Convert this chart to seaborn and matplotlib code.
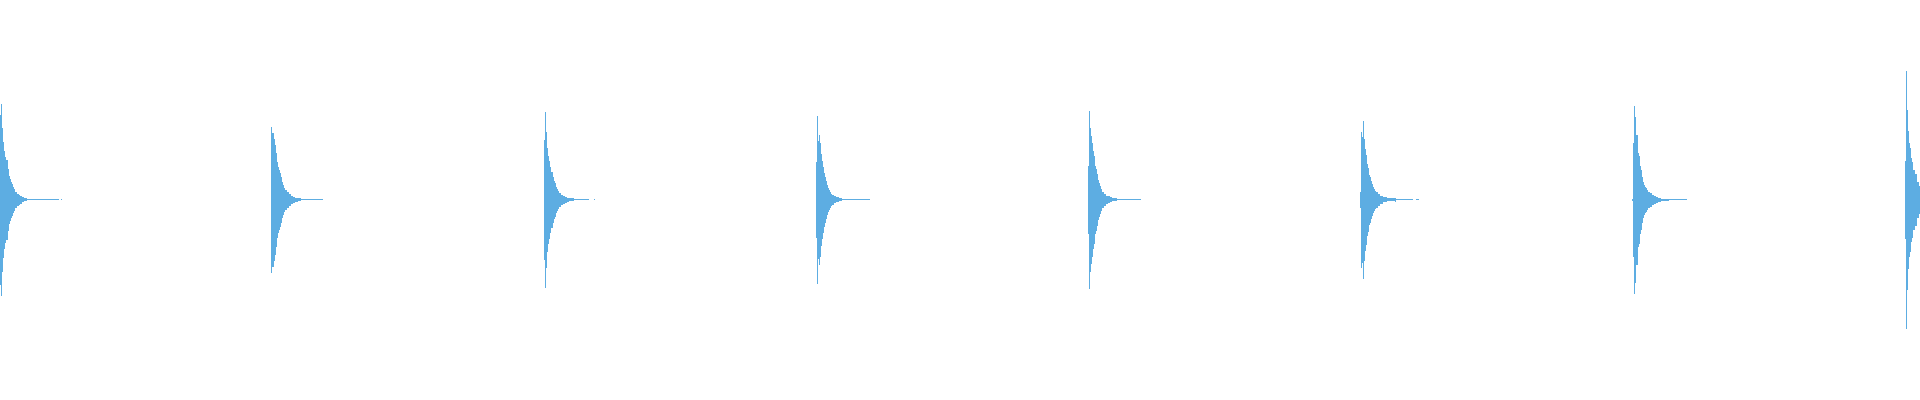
import matplotlib
matplotlib.use("Agg")
import pandas as pd
import matplotlib.pyplot as plt
import seaborn as sns

# ============================
# Data: decaying clicks, one sample = one pixel column
# ============================
onsets = [0, 271, 544, 816, 1088, 1360, 1632, 1905]

# peak envelope (amplitude) of each sample after the onset
pulse_1 = [85, 96, 72, 58, 49, 43, 40, 40, 31, 24, 21, 18, 16, 13, 11, 8, 8, 6, 6, 5,
           4, 4, 2.5, 2.5, 1.5, 1.5, 1.5, 0.7, 0.7, 0.7, 0.7, 0.7, 0.7, 0.7, 0.7, 0.7,
           0.7, 0.7, 0.7, 0.5, 0.5, 0.5, 0.5, 0.5, 0.5, 0.5, 0.5, 0.5, 0.5, 0.5, 0.5,
           0.5, 0.5, 0.5, 0.5, 0.5, 0.5, 0.5, 0.5, 0, 0, 0.5]
pulse_2 = [73, 67, 67, 61, 55, 47, 38, 33, 30, 27, 23, 18, 15, 12, 10, 10, 8, 8, 6, 6,
           4, 4, 3, 3, 2, 2, 2, 1.3, 1.3, 1.3, 0.7, 0.7, 0.7, 0.7, 0.7, 0.7, 0.7, 0.7,
           0.7, 0.5, 0.5, 0.5, 0.5, 0.5, 0.5, 0.5, 0.5, 0.5, 0.5, 0.5, 0.5, 0.5]
pulse_3 = [60, 88, 68, 52, 44, 39, 33, 28, 28, 23, 19, 17, 13, 11, 9, 7, 7, 5, 5, 4,
           4, 3, 3, 2, 2, 1.3, 1.3, 1.3, 1.3, 1.3, 0.7, 0.7, 0.7, 0.7, 0.7, 0.5, 0.5,
           0.5, 0.5, 0.5, 0.5, 0.5, 0.5, 0.5, 0.5, 0, 0, 0, 0, 0, 0.5]
pulse_4 = [38, 84, 59, 65, 57, 46, 39, 33, 27, 23, 19, 15, 12, 10, 8, 6, 5, 5, 3.5,
           3.5, 2.3, 2.3, 2.3, 1.3, 1.3, 1.3, 0.7, 0.7, 0.7, 0.7, 0.7, 0.7, 0.7, 0.7,
           0.7, 0.5, 0.5, 0.5, 0.5, 0.5, 0.5, 0.5, 0.5, 0.5, 0.5, 0.5, 0.5, 0.5, 0.5,
           0.5, 0.5, 0.5, 0.5, 0.5]
pulse_5 = [34, 89, 72, 64, 57, 49, 44, 34, 31, 26, 20, 17, 14, 11, 8, 8, 6, 6, 4, 4,
           3.3, 3.3, 2.3, 2.3, 1.3, 1.3, 1.3, 1.3, 1.3, 0.7, 0.7, 0.7, 0.7, 0.7, 0.7,
           0.5, 0.5, 0.5, 0.5, 0.5, 0.5, 0.5, 0.5, 0.5, 0.5, 0.5, 0.5, 0.5, 0.5, 0.5,
           0.5, 0.5, 0.5]
pulse_6 = [8, 68, 63, 79, 61, 51, 45, 36, 32, 25, 23, 19, 16, 13, 11, 9, 8, 8, 6, 6,
           4, 4, 4, 2.7, 2.7, 2.7, 2.7, 1.7, 1.7, 1.7, 1.7, 1.7, 1.7, 1.7, 1.7, 2,
           0.7, 0.7, 0.7, 0.7, 0.7, 0.7, 0.7, 0.5, 0.5, 0.5, 0.5, 0.5, 0.5, 0.5, 0.5,
           0.5, 0.5, 0, 0, 0, 0.5, 0.5, 0.5]
pulse_7 = [1, 57, 94, 83, 65, 65, 47, 44, 34, 30, 23, 18, 15, 13, 12, 10, 8, 8, 7, 7,
           5, 5, 4, 4, 3, 3, 2, 2, 2, 1, 1, 1, 1, 1, 1, 1, 1, 0.5, 0.5, 0.5, 0.5, 0.5,
           0.5, 0.5, 0.5, 0.5, 0.5, 0.5, 0.5, 0.5, 0.5, 0.5, 0.5, 0.5, 0.5]
pulse_8 = [39, 129, 90, 69, 57, 52, 42, 38, 30, 30, 26, 26, 18, 18, 14]

pulses = [pulse_1, pulse_2, pulse_3, pulse_4, pulse_5, pulse_6, pulse_7, pulse_8]

wave_color = "#5DADE2"

rows = []
for onset, env in zip(onsets, pulses):
    for i, a in enumerate(env):
        rows.append({"sample": onset + i, "amp": a})
wave_df = pd.DataFrame(rows)
wave_df["neg"] = -wave_df["amp"]

# ============================
# Plot
# ============================
sns.set_theme(style="white")

fig = plt.figure(figsize=(19.2, 4), dpi=100)
ax = fig.add_axes([0, 0, 1, 1])

for col in ["amp", "neg"]:
    sns.barplot(
        data=wave_df, x="sample", y=col,
        native_scale=True, width=1,
        color=wave_color, saturation=1,
        linewidth=0, errorbar=None, antialiased=False, ax=ax
    )

ax.set_xlim(-0.5, 1919.5)
ax.set_ylim(-200.5, 199.5)
ax.axis("off")

fig.savefig("out.png", dpi=100, facecolor="white")
plt.close(fig)
